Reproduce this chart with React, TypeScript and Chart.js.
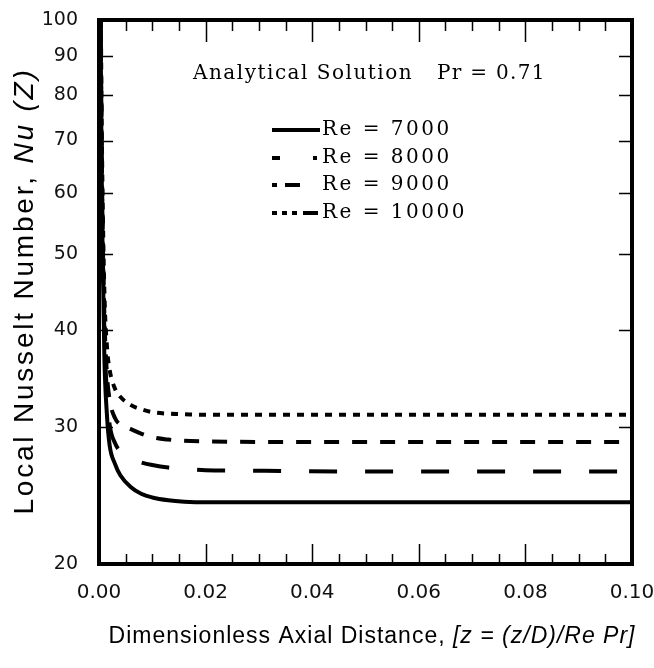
import React, { useEffect, useRef } from "react";
import { Chart, registerables } from "chart.js";
Chart.register(...registerables);

// ---- data ----
const distance = [0.0002, 0.0004, 0.0006, 0.001, 0.0015, 0.002, 0.003, 0.004, 0.006, 0.008, 0.01, 0.013, 0.016, 0.02, 0.03, 0.05, 0.07, 0.1];
const nuRe7000 = [130, 78, 55, 37, 31, 28.4, 26.9, 26.0, 25.1, 24.6, 24.35, 24.15, 24.05, 24.0, 24.0, 24.0, 24.0, 24.0];
const nuRe8000 = [135, 82, 58, 40, 33, 30.2, 28.6, 27.9, 27.3, 27.0, 26.8, 26.6, 26.5, 26.4, 26.35, 26.3, 26.3, 26.3];
const nuRe9000 = [140, 85, 60, 42, 35, 32.5, 30.8, 30.2, 29.8, 29.4, 29.1, 28.9, 28.8, 28.75, 28.7, 28.7, 28.7, 28.7];
const nuRe10000 = [145, 90, 65, 45, 38, 35.5, 33.6, 32.8, 32.0, 31.6, 31.35, 31.2, 31.15, 31.1, 31.1, 31.1, 31.1, 31.1];
const seriesLabels = ["Re = 7000", "Re = 8000", "Re = 9000", "Re = 10000"];
const yTickValues = [20, 30, 40, 50, 60, 70, 80, 90, 100];
const xMin = 0;
const xMax = 0.1;
const xTickStep = 0.02;
const xMinorStep = 0.005;
const annotationTitle = "Analytical Solution";
const annotationPr = "Pr = 0.71";
const xTitleParts = ["Dimensionless Axial Distance, ", "[z = (z/D)/Re Pr]"];
const yTitleParts = ["Local Nusselt Number, ", "Nu (Z)"];

// ---- styles ----
const lineDashes: number[][] = [[], [28, 28], [15, 13], [7, 7]];
const legendDashes: number[][] = [[], [8, 33, 4, 100], [5, 8, 15, 100], [5, 5, 5, 5, 5, 6, 15, 100]];
const tickFont = "DejaVu Sans";
const serifFont = "DejaVu Serif";
const titleFont = "Liberation Sans";

function drawParts(ctx: CanvasRenderingContext2D, parts: { text: string; font: string }[], x: number, y: number, ls: string, align: "left" | "center") {
  (ctx as any).letterSpacing = ls;
  ctx.textAlign = "left";
  let total = 0;
  const widths = parts.map((p) => {
    ctx.font = p.font;
    const w = ctx.measureText(p.text).width;
    total += w;
    return w;
  });
  let cx = align === "center" ? x - total / 2 : x;
  parts.forEach((p, i) => {
    ctx.font = p.font;
    ctx.fillText(p.text, cx, y);
    cx += widths[i];
  });
  (ctx as any).letterSpacing = "0px";
}

const framePlugin = {
  id: "frame",
  afterDatasetsDraw(chart: any) {
    const { ctx, chartArea: a, scales } = chart;
    const xs = scales.x;
    const ys = scales.y;
    ctx.save();
    ctx.strokeStyle = "#000";
    ctx.fillStyle = "#000";
    ctx.setLineDash([]);
    ctx.lineWidth = 4;
    ctx.strokeRect(a.left, a.top, a.right - a.left, a.bottom - a.top);

    // inward ticks
    ctx.lineWidth = 1.5;
    const n = Math.round((xMax - xMin) / xMinorStep);
    const perMajor = Math.round(xTickStep / xMinorStep);
    for (let k = 1; k < n; k++) {
      const px = Math.round(xs.getPixelForValue(xMin + k * xMinorStep)) + 0.5;
      const major = k % perMajor === 0;
      ctx.beginPath();
      ctx.moveTo(px, a.bottom);
      ctx.lineTo(px, a.bottom - (major ? 20 : 10));
      ctx.moveTo(px, a.top);
      ctx.lineTo(px, a.top + (major ? 22 : 11));
      ctx.stroke();
    }
    yTickValues.slice(1, -1).forEach((v) => {
      const py = Math.round(ys.getPixelForValue(v)) + 0.5;
      ctx.beginPath();
      ctx.moveTo(a.left, py);
      ctx.lineTo(a.left + 14, py);
      ctx.moveTo(a.right, py);
      ctx.lineTo(a.right - 13, py);
      ctx.stroke();
    });

    // annotation
    ctx.textBaseline = "middle";
    drawParts(ctx, [{ text: annotationTitle, font: `20px "${serifFont}"` }], 193, 74, "1.5px", "left");
    drawParts(ctx, [{ text: annotationPr, font: `20px "${serifFont}"` }], 437, 74, "1.3px", "left");

    // legend
    const rows = [130, 158, 185, 213];
    seriesLabels.forEach((label, i) => {
      const y = rows[i];
      ctx.lineWidth = 4;
      ctx.lineCap = "butt";
      ctx.setLineDash(legendDashes[i]);
      ctx.beginPath();
      ctx.moveTo(272, y);
      ctx.lineTo(i === 0 ? 320 : 318, y);
      ctx.stroke();
      ctx.setLineDash([]);
      drawParts(ctx, [{ text: label, font: `20px "${serifFont}"` }], 322, y, "2.5px", "left");
    });

    // axis titles
    ctx.textBaseline = "alphabetic";
    drawParts(
      ctx,
      [
        { text: xTitleParts[0], font: `23px "${titleFont}"` },
        { text: xTitleParts[1], font: `italic 23px "${titleFont}"` },
      ],
      372,
      643,
      "1px",
      "center"
    );
    ctx.save();
    ctx.translate(33, 291);
    ctx.rotate(-Math.PI / 2);
    drawParts(
      ctx,
      [
        { text: yTitleParts[0], font: `28px "${titleFont}"` },
        { text: yTitleParts[1], font: `italic 28px "${titleFont}"` },
      ],
      0,
      0,
      "2.8px",
      "center"
    );
    ctx.restore();
    ctx.restore();
  },
};

export default function App() {
  const ref = useRef<HTMLCanvasElement | null>(null);
  useEffect(() => {
    if (!ref.current) return;
    const series = [nuRe7000, nuRe8000, nuRe9000, nuRe10000];
    const chart = new Chart(ref.current, {
      type: "line",
      data: {
        datasets: series.map((vals, i) => ({
          label: seriesLabels[i],
          data: distance.map((x, j) => ({ x, y: vals[j] })),
          borderColor: "#000",
          borderWidth: 4,
          borderDash: lineDashes[i],
          borderCapStyle: "butt",
          pointRadius: 0,
          fill: false,
          cubicInterpolationMode: "monotone",
        })),
      },
      options: {
        animation: false,
        responsive: false,
        maintainAspectRatio: false,
        layout: { padding: { left: 39, top: 20, right: 22, bottom: 64 } },
        plugins: { legend: { display: false }, tooltip: { enabled: false } },
        scales: {
          x: {
            type: "linear",
            min: xMin,
            max: xMax,
            grid: { display: false },
            border: { display: false },
            ticks: {
              stepSize: xTickStep,
              padding: 9,
              color: "#111",
              font: { family: tickFont, size: 20 },
              callback: (v: any) => Number(v).toFixed(2),
            },
            afterFit: (s: any) => {
              s.height = 40;
              s.paddingLeft = 0;
              s.paddingRight = 0;
            },
          },
          y: {
            type: "logarithmic",
            min: 20,
            max: 100,
            grid: { display: false },
            border: { display: false },
            afterBuildTicks: (s: any) => {
              s.ticks = yTickValues.map((v) => ({ value: v }));
            },
            ticks: {
              padding: 13,
              color: "#111",
              font: { family: tickFont, size: 19 },
              callback: (v: any) => String(v),
            },
            afterFit: (s: any) => {
              s.width = 60;
              s.paddingTop = 0;
              s.paddingBottom = 0;
            },
          },
        },
      },
      plugins: [framePlugin],
    } as any);
    return () => chart.destroy();
  }, []);
  return (
    <div style={{ position: "absolute", left: 0, top: 0, width: 654, height: 668, background: "#fff" }}>
      <canvas ref={ref} width={654} height={668} style={{ width: 654, height: 668 }} />
    </div>
  );
}
